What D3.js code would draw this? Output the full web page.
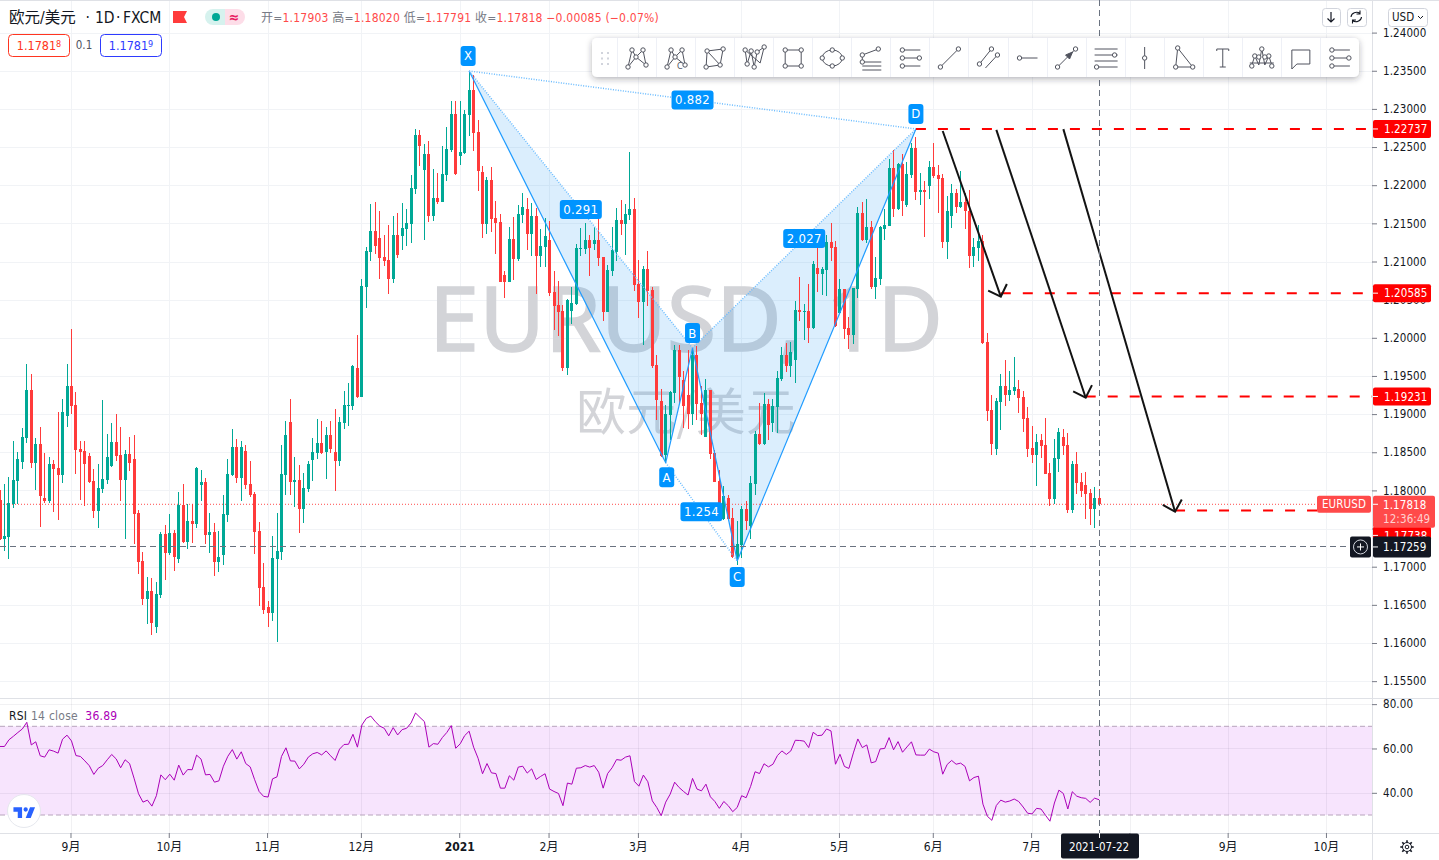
<!DOCTYPE html>
<html><head><meta charset="utf-8">
<script src="https://cdn.jsdelivr.net/npm/d3@7"></script>
<style>
html,body{margin:0;padding:0;background:#fff;overflow:hidden}
svg{display:block}
text{font-family:"DejaVu Sans Condensed","DejaVu Sans","Noto Sans CJK SC",sans-serif;font-stretch:condensed}
</style></head><body><svg id="c" width="1439" height="860"></svg>
<script>
const opens=[1.17873,1.17362,1.17393,1.17816,1.18122,1.18371,1.18686,1.19315,1.18358,1.18607,1.17900,1.17860,1.18345,1.18293,1.18201,1.18975,1.19368,1.19119,1.18542,1.18516,1.18450,1.18122,1.17729,1.18017,1.18135,1.18319,1.18634,1.18463,1.18135,1.18476,1.18411,1.17703,1.17074,1.16575,1.16680,1.16208,1.16628,1.17428,1.17178,1.17441,1.17100,1.17808,1.17323,1.17598,1.17559,1.18070,1.18109,1.17414,1.17454,1.17060,1.17152,1.17677,1.18201,1.18568,1.18166,1.18511,1.18083,1.17959,1.17462,1.16735,1.16473,1.16390,1.17103,1.17190,1.18202,1.18897,1.18110,1.18138,1.17756,1.18018,1.18400,1.18492,1.18621,1.18506,1.18727,1.18501,1.18386,1.18883,1.19109,1.19109,1.19605,1.19224,1.20668,1.21128,1.21404,1.21312,1.21059,1.21022,1.20774,1.21349,1.21335,1.21427,1.21496,1.21951,1.22660,1.22200,1.22411,1.21597,1.21836,1.21781,1.22135,1.22462,1.22936,1.22384,1.22425,1.22922,1.23251,1.22700,1.22175,1.21493,1.22070,1.21572,1.21520,1.20825,1.20733,1.21297,1.21035,1.21611,1.21690,1.21362,1.21598,1.21074,1.21192,1.21284,1.20602,1.20432,1.20353,1.19606,1.20353,1.20445,1.21166,1.21166,1.21284,1.21231,1.21284,1.21061,1.20340,1.20877,1.21126,1.21546,1.21493,1.21611,1.21690,1.20707,1.20471,1.20904,1.20628,1.19645,1.19173,1.18465,1.18989,1.19273,1.19842,1.19448,1.19252,1.19003,1.19774,1.19145,1.18699,1.19315,1.18489,1.18122,1.17620,1.17899,1.17637,1.17122,1.17283,1.17755,1.17532,1.18083,1.18739,1.18607,1.19132,1.18883,1.19093,1.19460,1.19774,1.19630,1.19709,1.20364,1.20338,1.20351,1.20128,1.20915,1.20836,1.20889,1.21256,1.21190,1.20320,1.20639,1.20128,1.20036,1.20639,1.21636,1.21282,1.21452,1.20666,1.20771,1.21426,1.21465,1.22226,1.21688,1.22278,1.21741,1.22134,1.22488,1.21911,1.21937,1.21990,1.22239,1.22134,1.22095,1.21256,1.21597,1.21898,1.21715,1.21780,1.21662,1.21072,1.21177,1.21269,1.19945,1.19053,1.18542,1.19158,1.19368,1.19250,1.19302,1.19328,1.19224,1.18948,1.18555,1.18463,1.18660,1.18594,1.18227,1.17886,1.18411,1.18699,1.18594,1.17742,1.18345,1.18109,1.18070,1.17965,1.17755,1.17903];
const closes=[1.17362,1.17401,1.17834,1.18135,1.18411,1.18699,1.19315,1.18358,1.18607,1.17926,1.17860,1.18345,1.18280,1.18201,1.19027,1.19368,1.19106,1.18529,1.18503,1.18345,1.18109,1.17729,1.18031,1.18149,1.18437,1.18634,1.18450,1.18135,1.18476,1.18358,1.17690,1.17060,1.16575,1.16680,1.16261,1.16641,1.17428,1.17178,1.17441,1.17126,1.17808,1.17323,1.17598,1.17559,1.18293,1.18109,1.17414,1.17454,1.17060,1.17126,1.17690,1.18214,1.18568,1.18162,1.18566,1.18069,1.17945,1.17457,1.16726,1.16431,1.16390,1.17112,1.17204,1.18216,1.18727,1.18110,1.18138,1.17756,1.18032,1.18345,1.18501,1.18621,1.18492,1.18727,1.18543,1.18386,1.18897,1.19118,1.19122,1.19633,1.19224,1.20682,1.21142,1.21404,1.21206,1.21050,1.21008,1.20774,1.21349,1.21087,1.21441,1.21505,1.21965,1.22660,1.22517,1.22411,1.21597,1.21836,1.21781,1.22149,1.22476,1.22936,1.22149,1.22439,1.22936,1.23251,1.22687,1.22188,1.21493,1.22070,1.21559,1.21507,1.20733,1.20733,1.21297,1.21035,1.21625,1.21716,1.21362,1.21598,1.21074,1.21205,1.21336,1.20589,1.20418,1.20340,1.19606,1.20497,1.20458,1.21179,1.21174,1.21284,1.21179,1.21284,1.21048,1.20340,1.20890,1.21153,1.21546,1.21493,1.21625,1.21690,1.20694,1.20471,1.20904,1.20615,1.19632,1.19186,1.18452,1.19003,1.19291,1.19842,1.19488,1.19107,1.19003,1.19776,1.19132,1.19001,1.19315,1.18476,1.18109,1.17629,1.17926,1.17620,1.17130,1.17296,1.17755,1.17598,1.18096,1.18739,1.18607,1.19132,1.18857,1.19106,1.19473,1.19774,1.19630,1.19814,1.20364,1.20338,1.20351,1.20128,1.20967,1.20836,1.20902,1.21256,1.21177,1.20154,1.20639,1.20115,1.20036,1.20653,1.21636,1.21282,1.21452,1.20666,1.20784,1.21452,1.21479,1.22226,1.21688,1.22278,1.21793,1.22147,1.22488,1.21911,1.21937,1.21911,1.22239,1.22121,1.22082,1.21256,1.21662,1.21898,1.21715,1.21780,1.21662,1.21072,1.21190,1.21269,1.19932,1.19040,1.18607,1.19171,1.19368,1.19250,1.19315,1.19355,1.19210,1.18935,1.18542,1.18463,1.18634,1.18581,1.18214,1.17886,1.18424,1.18765,1.18581,1.17742,1.18345,1.18096,1.17991,1.17952,1.17755,1.17899,1.17818];
const highs=[1.18004,1.18083,1.18175,1.18647,1.18503,1.18817,1.19656,1.19525,1.18686,1.18830,1.18489,1.18437,1.18398,1.19027,1.19197,1.19656,1.20115,1.19289,1.18647,1.18647,1.18489,1.18280,1.18345,1.19184,1.18739,1.18883,1.19001,1.18830,1.18529,1.18699,1.18725,1.17742,1.17192,1.16864,1.16851,1.16798,1.17454,1.17546,1.17690,1.17480,1.17978,1.18083,1.17821,1.17821,1.18306,1.18267,1.18162,1.17703,1.17572,1.17467,1.17939,1.18411,1.18804,1.18673,1.18649,1.18593,1.18386,1.17982,1.17586,1.17048,1.16551,1.17402,1.17706,1.18593,1.18911,1.19201,1.18437,1.18331,1.18230,1.18382,1.18685,1.18938,1.18911,1.18833,1.18911,1.19067,1.18961,1.19302,1.19408,1.19647,1.20038,1.20774,1.21188,1.21758,1.21781,1.21666,1.21349,1.21482,1.21597,1.21639,1.21767,1.21689,1.22135,1.22738,1.22724,1.22545,1.22582,1.22214,1.22163,1.22517,1.22766,1.23106,1.23106,1.23106,1.22991,1.23497,1.23446,1.22857,1.22254,1.22105,1.22241,1.21795,1.21625,1.20877,1.21454,1.21585,1.21743,1.21900,1.21834,1.21769,1.21703,1.21428,1.21572,1.21533,1.20877,1.20746,1.20432,1.20510,1.20668,1.21231,1.21441,1.21507,1.21349,1.21454,1.21703,1.21061,1.20956,1.21454,1.21703,1.21808,1.21756,1.22437,1.21834,1.21021,1.20943,1.21139,1.20668,1.19776,1.19330,1.19121,1.19304,1.19907,1.19907,1.19566,1.19842,1.19863,1.19892,1.19370,1.19460,1.19315,1.18529,1.18267,1.18057,1.17939,1.17768,1.17598,1.17795,1.17860,1.18188,1.18778,1.19145,1.19276,1.19197,1.19197,1.19564,1.19879,1.19932,1.19945,1.20482,1.20797,1.20443,1.20705,1.21007,1.21177,1.20928,1.21347,1.21505,1.21269,1.20771,1.20639,1.20272,1.20653,1.21715,1.21780,1.21819,1.21531,1.21059,1.21465,1.21688,1.22344,1.22462,1.22291,1.22409,1.22304,1.22554,1.22632,1.22160,1.22055,1.22318,1.22554,1.22265,1.22147,1.21859,1.22016,1.21950,1.22186,1.21898,1.21937,1.21308,1.21479,1.21347,1.20063,1.19250,1.19210,1.19525,1.19709,1.19564,1.19748,1.19446,1.19302,1.19093,1.18843,1.18739,1.18739,1.18948,1.18358,1.18673,1.18817,1.18804,1.18747,1.18385,1.18503,1.18227,1.18240,1.18017,1.18044,1.18020];
const lows=[1.17349,1.17209,1.17104,1.17768,1.17816,1.18280,1.18621,1.18293,1.18004,1.17519,1.17834,1.17834,1.17716,1.17611,1.18096,1.18830,1.19001,1.18214,1.17873,1.17795,1.18096,1.17637,1.17506,1.17965,1.18083,1.18306,1.18385,1.17860,1.17362,1.18253,1.17296,1.16903,1.16497,1.16248,1.16103,1.16130,1.16588,1.16824,1.17152,1.16942,1.17047,1.17310,1.17231,1.17310,1.17506,1.17860,1.17296,1.17178,1.16877,1.16929,1.17021,1.17585,1.18188,1.18096,1.17862,1.18023,1.17917,1.17172,1.16487,1.16381,1.16211,1.16289,1.16013,1.17094,1.17945,1.17945,1.17784,1.17448,1.17572,1.17977,1.18124,1.18414,1.18478,1.18152,1.18492,1.17991,1.18322,1.18805,1.18846,1.19053,1.19210,1.19224,1.20392,1.21008,1.21100,1.20774,1.20944,1.20576,1.20719,1.21050,1.21151,1.21206,1.21243,1.21887,1.22255,1.21284,1.21519,1.21533,1.21758,1.21781,1.22057,1.22439,1.22135,1.22269,1.22411,1.22646,1.22453,1.21930,1.21310,1.21362,1.21389,1.21100,1.20733,1.20523,1.20733,1.20759,1.21008,1.21507,1.21153,1.21074,1.20576,1.20930,1.20930,1.20550,1.20104,1.20025,1.19566,1.19514,1.20182,1.20432,1.21074,1.21100,1.20812,1.21153,1.20943,1.20222,1.20340,1.20812,1.21008,1.21349,1.21087,1.21546,1.20615,1.20261,1.19907,1.20418,1.19606,1.18924,1.18434,1.18363,1.18662,1.19142,1.19142,1.18815,1.18806,1.18858,1.18924,1.18725,1.18699,1.18411,1.18105,1.17620,1.17611,1.17620,1.17109,1.17021,1.17109,1.17480,1.17362,1.17939,1.18594,1.18594,1.18655,1.18769,1.18747,1.19433,1.19556,1.19486,1.19407,1.20220,1.19971,1.19932,1.20115,1.20600,1.20561,1.20548,1.21007,1.20140,1.20312,1.19984,1.19853,1.19918,1.20521,1.21269,1.21238,1.20639,1.20508,1.20692,1.21282,1.21465,1.21583,1.21675,1.21597,1.21715,1.22095,1.21806,1.21741,1.21321,1.21819,1.22095,1.21636,1.21177,1.21033,1.21439,1.21636,1.21701,1.21426,1.20915,1.20928,1.21007,1.19918,1.18909,1.18463,1.18463,1.18791,1.19106,1.19171,1.19250,1.19014,1.18765,1.18437,1.18358,1.18057,1.18424,1.18214,1.17795,1.17821,1.18240,1.18463,1.17703,1.17703,1.17952,1.17913,1.17624,1.17546,1.17506,1.17791];
const rsiValues=[60.9,60.9,63.9,65.5,67.2,68.8,71.8,61.6,63.0,56.7,56.1,59.4,58.8,57.9,64.2,66.0,63.4,56.8,56.4,54.4,52.2,48.3,51.1,52.3,54.9,57.3,55.3,51.3,54.9,53.2,46.6,39.6,35.8,36.7,34.0,38.7,48.1,45.9,48.4,45.7,52.5,48.0,50.5,50.4,57.0,55.2,48.1,48.3,44.8,45.4,52.0,56.5,59.5,55.2,58.5,53.2,51.7,45.9,40.6,38.4,38.1,46.3,47.2,56.4,60.3,54.4,54.3,50.8,52.9,56.1,57.6,58.2,57.1,58.9,56.7,54.6,59.7,61.8,61.9,66.4,60.6,70.6,73.6,74.6,72.1,70.1,69.1,65.7,69.4,66.1,68.5,69.1,71.5,76.0,74.0,72.1,60.6,62.2,61.9,64.9,67.2,70.3,60.1,62.1,65.8,67.8,60.6,55.6,48.6,53.2,49.0,48.7,42.1,42.1,47.7,45.7,51.6,52.0,48.9,50.8,46.0,47.4,48.6,41.7,40.6,39.7,34.2,44.4,43.9,51.1,51.3,52.3,51.6,52.3,49.3,42.1,48.7,51.3,55.0,54.7,56.1,56.7,45.1,43.0,48.0,45.0,36.4,33.4,29.7,35.8,39.4,44.8,42.4,40.6,39.0,46.5,41.7,40.9,43.9,38.2,36.1,33.0,36.1,34.2,31.5,33.4,38.7,37.8,42.9,49.5,48.7,53.1,51.7,52.9,56.8,58.9,57.3,58.9,63.7,63.6,63.3,60.4,67.3,65.8,66.0,68.8,67.9,52.9,57.4,51.9,51.0,58.0,64.3,60.4,61.6,53.5,54.1,59.8,60.0,64.9,59.4,63.1,58.3,60.7,63.0,57.1,57.0,57.0,59.7,58.5,57.9,48.4,52.8,54.6,52.9,53.4,51.9,45.4,46.9,47.5,34.9,29.4,27.6,34.3,36.7,35.8,36.3,37.2,36.1,33.6,30.8,30.5,33.0,32.7,29.9,27.2,35.4,41.2,39.7,32.7,40.5,38.5,37.8,37.5,35.7,37.6,36.89];
const priceTicks=[1.155,1.16,1.165,1.17,1.175,1.18,1.185,1.19,1.195,1.2,1.205,1.21,1.215,1.22,1.225,1.23,1.235,1.24];
const rsiTicks=[40,60,80];
const monthIdx=[16,38,60,81,103,123,143,166,188,209,231,253,275,297];
const monthLabels=["9月","10月","11月","12月","2021","2月","3月","4月","5月","6月","7月","","9月","10月"];
const patternNames=["X","A","B","C","D"];
const patternIdx=[105,149,155,165,205];
const patternPrices=[1.23497,1.18363,1.19866,1.17075,1.22737];
const ratioPairs=[[0,4],[0,2],[2,4],[1,3]];
const ratioLabels=["0.882","0.291","2.027","1.254"];
const levelPrices=[1.22737,1.20585,1.19231,1.17738];
const levelStartIdx=[205,224,243,263];
const arrowStartIdx=[211,223,238];
const arrowStartPrice=[1.2271,1.22725,1.22735];
const arrowEndIdx=[224,243,263];
const arrowEndPrice=[1.20539,1.19215,1.17721];
const lastPrice=1.17818, crossPrice=1.17259, crossIdx=246;

const svg=d3.select("#c");
const W=1372, H=698, B=833;
const x=d3.scaleLinear().domain([0,246]).range([0,1099.1]);
const y=d3.scaleLinear().domain([1.18,1.24]).range([490.4,32.6]);
const ry=d3.scaleLinear().domain([30,70]).range([815,726.3]);
const px=i=>Math.floor(x(i));
const cjk='"DejaVu Sans Condensed","Noto Sans CJK SC",sans-serif';
const gridC='#f1f3f6';
const axisSize=11.5;

// grid
const grid=svg.append("g").attr("shape-rendering","crispEdges");
grid.selectAll(".h").data(priceTicks).join("line").attr("x1",0).attr("x2",W).attr("y1",d=>Math.round(y(d))+.5).attr("y2",d=>Math.round(y(d))+.5).attr("stroke",gridC);
grid.selectAll(".v").data(monthIdx).join("line").attr("x1",d=>px(d)+.5).attr("x2",d=>px(d)+.5).attr("y1",0).attr("y2",B).attr("stroke",gridC);

// watermark
svg.append("text").attr("x",686).attr("y",351).attr("text-anchor","middle").attr("font-size",90).attr("fill","#d3d4d8").attr("stroke","#d3d4d8").attr("stroke-width",1.5).style("font-family",'"Noto Sans",sans-serif').style("font-stretch","normal").text("EURUSD, 1D");
svg.append("text").attr("x",686).attr("y",430).attr("text-anchor","middle").attr("font-size",50).attr("fill","#d3d4d8").style("font-family",'"Noto Sans CJK SC"').style("font-stretch","normal").text("欧元/美元");

// pattern fill
const pt=i=>[x(patternIdx[i]),y(patternPrices[i])];
const blue="#1e9bff";
svg.append("path").attr("d",d3.line()([pt(0),pt(1),pt(2)])+"Z").attr("fill","rgba(33,150,243,.16)");
svg.append("path").attr("d",d3.line()([pt(2),pt(3),pt(4)])+"Z").attr("fill","rgba(33,150,243,.16)");

// price line
svg.append("line").attr("x1",0).attr("x2",1317).attr("y1",y(lastPrice)).attr("y2",y(lastPrice)).attr("stroke","#ff4a4a").attr("stroke-dasharray","1 2");

// candles
const idx=d3.range(opens.length);
const col=i=>closes[i]>=opens[i]?"#00a896":"#ff3b3b";
const cg=svg.append("g").attr("shape-rendering","crispEdges");
cg.selectAll(".w").data(idx).join("rect").attr("x",px).attr("width",1).attr("y",i=>y(highs[i])).attr("height",i=>y(lows[i])-y(highs[i])).attr("fill",col);
cg.selectAll(".b").data(idx).join("rect").attr("x",i=>px(i)-1).attr("width",3)
  .attr("y",i=>y(Math.max(opens[i],closes[i]))).attr("height",i=>Math.max(1,Math.abs(y(opens[i])-y(closes[i])))).attr("fill",col);

// pattern lines
[[0,1],[1,2],[2,3],[3,4]].forEach(([a,b])=>svg.append("line").attr("x1",pt(a)[0]).attr("y1",pt(a)[1]).attr("x2",pt(b)[0]).attr("y2",pt(b)[1]).attr("stroke",blue).attr("stroke-width",1.2));
ratioPairs.forEach(([a,b])=>svg.append("line").attr("x1",pt(a)[0]).attr("y1",pt(a)[1]).attr("x2",pt(b)[0]).attr("y2",pt(b)[1]).attr("stroke","#6bbcff").attr("stroke-width",1.5).attr("stroke-dasharray","1 1.5"));

// levels
levelPrices.forEach((p,i)=>svg.append("line").attr("x1",x(levelStartIdx[i])).attr("x2",W).attr("y1",y(p)).attr("y2",y(p)).attr("stroke","#ff0000").attr("stroke-width",2).attr("stroke-dasharray","10 12"));

// arrows
arrowStartIdx.forEach((s,i)=>{
  const a=[x(s),y(arrowStartPrice[i])], b=[x(arrowEndIdx[i]),y(arrowEndPrice[i])];
  const ang=Math.atan2(a[1]-b[1],a[0]-b[0]);
  const w=d=>[b[0]+14*Math.cos(ang+d),b[1]+14*Math.sin(ang+d)];
  const l=d3.line();
  svg.append("path").attr("d",l([a,b])).attr("fill","none").attr("stroke","#131313").attr("stroke-width",2);
  svg.append("path").attr("d",l([w(Math.PI/4),b,w(-Math.PI/4)])).attr("fill","none").attr("stroke","#131313").attr("stroke-width",2);
});

// pattern labels
const labelBlue="#0094ff";
function badge(cx,cy,w,h,t,fs){
  const g=svg.append("g");
  g.append("rect").attr("x",cx-w/2).attr("y",cy-h/2).attr("width",w).attr("height",h).attr("rx",3).attr("fill",labelBlue);
  g.append("text").attr("x",cx).attr("y",cy+4.5).attr("text-anchor","middle").attr("font-size",fs).attr("fill","#fff").style("letter-spacing",".3px").text(t);
}
const pointOffset=[-15,14.5,-15,16,-15];
patternNames.forEach((n,i)=>badge(pt(i)[0]-(i==0?1:0)+(i==1?1:0),pt(i)[1]+pointOffset[i],15,20,n,13));
ratioPairs.forEach(([a,b],i)=>badge((pt(a)[0]+pt(b)[0])/2,(pt(a)[1]+pt(b)[1])/2,42,19,ratioLabels[i],13));

// axes areas
svg.append("rect").attr("x",W).attr("y",0).attr("width",1439-W).attr("height",860).attr("fill","#fff");
svg.append("rect").attr("x",0).attr("y",H).attr("width",W).attr("height",860-H).attr("fill","#fff");

// RSI pane
const rp=svg.append("g");
rp.append("rect").attr("x",0).attr("y",ry(70)).attr("width",W).attr("height",ry(30)-ry(70)).attr("fill","#f7e4fd");
const rg=rp.append("g").attr("shape-rendering","crispEdges");
rg.selectAll("line.h").data(rsiTicks).join("line").attr("x1",0).attr("x2",W).attr("y1",d=>Math.round(ry(d))+.5).attr("y2",d=>Math.round(ry(d))+.5).attr("stroke","rgba(60,60,90,.07)");
rg.selectAll("line.v").data(monthIdx).join("line").attr("x1",d=>px(d)+.5).attr("x2",d=>px(d)+.5).attr("y1",H).attr("y2",B).attr("stroke","rgba(60,60,90,.07)");
[70,30].forEach(v=>rp.append("line").attr("x1",0).attr("x2",W).attr("y1",ry(v)).attr("y2",ry(v)).attr("stroke","#b7a4bc").attr("stroke-dasharray","5 3"));
rp.append("path").attr("d",d3.line().x((d,i)=>x(i)).y(d=>ry(d))(rsiValues)).attr("fill","none").attr("stroke","#ab00b8").attr("stroke-width",1);

// pane separators
const sep=svg.append("g").attr("shape-rendering","crispEdges").attr("stroke","#dfe1e6");
sep.append("line").attr("x1",0).attr("x2",1439).attr("y1",H+.5).attr("y2",H+.5);
sep.append("line").attr("x1",0).attr("x2",1439).attr("y1",B+.5).attr("y2",B+.5);
sep.append("line").attr("x1",W+.5).attr("x2",W+.5).attr("y1",0).attr("y2",860);
sep.append("line").attr("x1",0).attr("x2",1439).attr("y1",.5).attr("y2",.5);

// axes
const tickText=s=>s.attr("font-size",axisSize).attr("fill","#131722").style("letter-spacing",".1px");
const ax=svg.append("g").attr("transform",`translate(${W},0)`).call(d3.axisRight(y).tickValues(priceTicks).tickFormat(d3.format(".5f")).tickSize(5).tickPadding(6));
ax.select(".domain").remove(); ax.selectAll("line").attr("stroke","#787b86"); ax.selectAll("text").call(tickText);
const ax2=svg.append("g").attr("transform",`translate(${W},0)`).call(d3.axisRight(ry).tickValues(rsiTicks).tickFormat(d3.format(".2f")).tickSize(5).tickPadding(6));
ax2.select(".domain").remove(); ax2.selectAll("line").attr("stroke","#787b86"); ax2.selectAll("text").call(tickText);
const bx=svg.append("g").attr("transform",`translate(-1,${B})`).call(d3.axisBottom(x).tickValues(monthIdx).tickFormat((d,i)=>monthLabels[i]).tickSize(5).tickPadding(4));
bx.select(".domain").remove(); bx.selectAll("line").attr("stroke","#787b86"); bx.selectAll("text").attr("font-size",12).attr("fill","#131722").style("font-family",cjk).attr("font-weight",(d,i)=>monthLabels[i]=="2021"?700:400);

// axis price boxes
const boxText=(xp,yp,t,c="#fff",fs=axisSize,anc="start")=>svg.append("text").attr("x",xp).attr("y",yp).attr("font-size",fs).attr("fill",c).attr("text-anchor",anc).style("letter-spacing",".1px").text(t);
const levelLabelShift=[0,0,0,25];
levelPrices.forEach((p,i)=>{
  const yy=y(p)+levelLabelShift[i];
  svg.append("rect").attr("x",W+1).attr("y",yy-9).attr("width",58).attr("height",18).attr("rx",2).attr("fill","#ff0000");
  svg.append("line").attr("x1",W+1).attr("x2",W+6).attr("y1",yy).attr("y2",yy).attr("stroke","#fff");
  boxText(1384,yy+4.3,d3.format(".5f")(p));
});
const ly=y(lastPrice);
svg.append("rect").attr("x",1317).attr("y",ly-8.5).attr("width",54).attr("height",17).attr("rx",2).attr("fill","#ff4a4a");
svg.append("text").attr("x",1344).attr("y",ly+4).attr("text-anchor","middle").attr("font-size",axisSize).attr("fill","#fff").style("letter-spacing",".1px").text("EURUSD");
svg.append("rect").attr("x",W+1).attr("y",ly-8.5).attr("width",62).attr("height",32).attr("rx",2).attr("fill","#ff4a4a");
svg.append("line").attr("x1",W+1).attr("x2",W+6).attr("y1",ly).attr("y2",ly).attr("stroke","#fff");
boxText(1383,ly+4.3,d3.format(".5f")(lastPrice));
boxText(1383,ly+19,"12:36:49","#ffd0d0");

// crosshair
const cLine=svg.append("g").attr("shape-rendering","crispEdges").attr("stroke","#6a7280").attr("stroke-dasharray","6 4");
const cy=y(crossPrice);
cLine.append("line").attr("x1",0).attr("x2",1350).attr("y1",Math.floor(cy)+.5).attr("y2",Math.floor(cy)+.5);
cLine.append("line").attr("x1",Math.floor(x(crossIdx))+.5).attr("x2",Math.floor(x(crossIdx))+.5).attr("y1",0).attr("y2",B);
svg.append("rect").attr("x",1350).attr("y",cy-10.5).attr("width",21).attr("height",21).attr("rx",2).attr("fill","#131722");
svg.append("rect").attr("x",W+1).attr("y",cy-10.5).attr("width",58).attr("height",21).attr("rx",2).attr("fill","#131722");
svg.append("circle").attr("cx",1360.5).attr("cy",cy).attr("r",7).attr("fill","none").attr("stroke","#d1d4dc");
svg.append("path").attr("d",`M1357 ${cy}H1364M1360.5 ${cy-3.5}V${cy+3.5}`).attr("stroke","#fff");
svg.append("line").attr("x1",W+1).attr("x2",W+6).attr("y1",cy).attr("y2",cy).attr("stroke","#fff");
boxText(1383,cy+4.3,d3.format(".5f")(crossPrice));
svg.append("rect").attr("x",1061).attr("y",B+.5).attr("width",78).attr("height",25).attr("rx",2).attr("fill","#131722");
svg.append("text").attr("x",1099).attr("y",851).attr("text-anchor","middle").attr("font-size",axisSize).attr("fill","#fff").text("2021-07-22");
svg.append("line").attr("x1",1099.5).attr("x2",1099.5).attr("y1",B).attr("y2",B+5).attr("stroke","#fff");

// header
const hd=(xp,t)=>svg.append("text").attr("x",xp).attr("y",23).attr("font-size",15.5).attr("fill","#131722").style("font-family",cjk).text(t);
hd(9,"欧元/美元"); hd(85.5,"·"); hd(95,"1D"); hd(116,"·"); hd(123,"FXCM");
svg.append("path").attr("d","M173 11H187L184 17L187 23H173Z").attr("fill","#ff3b3b");
svg.append("path").attr("d","M213 9H225V25H213A8 8 0 0 1 213 9Z").attr("fill","#d6f2ee");
svg.append("path").attr("d","M225 9H237A8 8 0 0 1 237 25H225Z").attr("fill","#fddde8");
svg.append("circle").attr("cx",216).attr("cy",17).attr("r",4).attr("fill","#00a896");
svg.append("text").attr("x",234).attr("y",21.5).attr("text-anchor","middle").attr("font-size",14).attr("font-weight",700).attr("fill","#e91e63").text("≈");
const ohlc=svg.append("text").attr("x",261).attr("y",21.5).attr("font-size",12).style("font-family",cjk).style("letter-spacing",".22px");
[["开=",0],["1.17903 ",1],["高=",0],["1.18020 ",1],["低=",0],["1.17791 ",1],["收=",0],["1.17818 −0.00085 (−0.07%)",1]].forEach(([t,r])=>ohlc.append("tspan").attr("fill",r?"#ff4a4a":"#787b86").attr("xml:space","preserve").text(t));
function pill(x0,w,c,main,sup){
  svg.append("rect").attr("x",x0+.5).attr("y",34.5).attr("width",w).attr("height",22).attr("rx",4).attr("fill","#fff").attr("stroke",c);
  const t=svg.append("text").attr("x",x0+w/2+.5).attr("y",50).attr("text-anchor","middle").attr("font-size",12.5).attr("fill",c);
  t.append("tspan").text(main); t.append("tspan").attr("font-size",9).attr("dy",-3).text(sup);
}
pill(8,61,"#ff3520","1.1781","8");
svg.append("text").attr("x",84).attr("y",49).attr("text-anchor","middle").attr("font-size",11.5).attr("fill","#50535e").text("0.1");
pill(100,61,"#2e3bff","1.1781","9");

// top right buttons
[[1322,18],[1347,19]].forEach(([a,w])=>svg.append("rect").attr("x",a+.5).attr("y",8.5).attr("width",w).attr("height",18).attr("rx",3).attr("fill","#fff").attr("stroke","#d1d4dc"));
svg.append("path").attr("d","M1331 12V22M1327.5 18.5L1331 22L1334.5 18.5").attr("fill","none").attr("stroke","#131722").attr("stroke-width",1.2);
svg.append("path").attr("d","M1351 17a5.5 5 0 0 1 9-3.5M1361.5 17a5.5 5 0 0 1-9 3.5M1360 10.5V14H1356.5M1352.5 23.5V20H1356").attr("fill","none").attr("stroke","#131722").attr("stroke-width",1.1);
svg.append("rect").attr("x",1388.5).attr("y",8.5).attr("width",39).attr("height",18).attr("rx",3).attr("fill","#fff").attr("stroke","#d1d4dc");
svg.append("text").attr("x",1392).attr("y",21).attr("font-size",11.5).attr("fill","#131722").text("USD");
svg.append("path").attr("d","M1418 16L1420.5 18.5L1423 16").attr("fill","none").attr("stroke","#131722");

// RSI legend
const rl=svg.append("text").attr("x",9).attr("y",720).attr("font-size",12).style("letter-spacing",".25px");
[["RSI","#131722"],[" 14 close","#787b86"],["  36.89","#ab00b8"]].forEach(([t,c])=>rl.append("tspan").attr("fill",c).attr("xml:space","preserve").text(t));

// TV logo
svg.append("circle").attr("cx",24).attr("cy",811).attr("r",16.5).attr("fill","#fff").attr("stroke","#e6e8ee");
svg.append("path").attr("transform","translate(12,803) scale(.72)").attr("fill","#2962ff").attr("d","M14 6H2v6h6v9h6V6Zm12 15h-7l6-15h7l-6 15Zm-7-9a3 3 0 1 0 0-6 3 3 0 0 0 0 6Z");

// gear
const gear=svg.append("g").attr("transform","translate(1407,847)").attr("fill","none").attr("stroke","#131722");
gear.append("circle").attr("r",4.5);
gear.append("circle").attr("r",1.8);
d3.range(8).forEach(i=>{const a=i*Math.PI/4;gear.append("line").attr("x1",4.5*Math.cos(a)).attr("y1",4.5*Math.sin(a)).attr("x2",6.7*Math.cos(a)).attr("y2",6.7*Math.sin(a)).attr("stroke-width",1.6);});

// toolbar
const defs=svg.append("defs");
const f=defs.append("filter").attr("id","sh").attr("x","-5%").attr("y","-30%").attr("width","110%").attr("height","170%");
f.append("feDropShadow").attr("dx",0).attr("dy",2).attr("stdDeviation",3).attr("flood-color","#2a2e39").attr("flood-opacity",.35);
svg.append("rect").attr("x",592).attr("y",38).attr("width",767).attr("height",39).attr("rx",5).attr("fill","#fff").attr("filter","url(#sh)");
d3.range(19).forEach(i=>svg.append("line").attr("x1",617.5+i*39.05).attr("x2",617.5+i*39.05).attr("y1",38).attr("y2",77).attr("stroke","#eef0f6").attr("shape-rendering","crispEdges"));
[[601,52],[607,52],[601,57.5],[607,57.5],[601,63],[607,63]].forEach(([a,b])=>svg.append("rect").attr("x",a).attr("y",b).attr("width",2).attr("height",2).attr("fill","#d1d4dc"));
const icons=[
 {l:[[[-9,9],[-5,-8],[-1,-1],[6,-8],[9,7],[-1,-1],[-9,9]]],n:[[-9,9],[-5,-8],[-1,-1],[6,-8],[9,7]]},
 {l:[[[-9,9],[-5,-8],[-1,-1],[6,-8],[9,7],[-1,-1],[-9,9]]],n:[[-9,9],[-5,-8],[-1,-1],[6,-8],[9,7]],t:"C"},
 {l:[[[-8,-7],[8,-9],[5,7],[-9,9],[-8,-7],[5,7]]],n:[[-8,-7],[8,-9],[5,7],[-9,9]]},
 {l:[[[-9,-8],[-7,6],[-3,-7],[0,9],[3,-6],[10,-11],[6,5],[-9,-8]]],n:[[-9,-8],[-7,6],[-3,-7],[0,9],[3,-6],[10,-11]]},
 {l:[[[-8,-8],[8,-8],[8,8],[-8,8],[-8,-8]]],n:[[-8,-8],[8,-8],[8,8],[-8,8]]},
 {c:[0,0,10,8],n:[[-10,0],[0,-8],[10,0],[0,8]]},
 {l:[[[-9,4],[-9,-3],[7,-9]],[[-9,4],[10,4]],[[-9,8],[10,8]],[[-9,12],[10,12]]],n:[[-9,-3],[7,-9],[-9,4]]},
 {l:[[[-9,-8],[10,-8]],[[-9,0],[10,0]],[[-9,8],[10,8]]],n:[[-8,-8],[-8,0],[-8,8],[9,0]]},
 {l:[[[-9,9],[9,-9]]],n:[[-9,9],[9,-9]]},
 {l:[[[-9,6],[3,-9]],[[-3,10],[9,-3]]],n:[[-9,6],[3,-9],[9,-3]]},
 {l:[[[-7,0],[10,0]]],n:[[-8,0]]},
 {l:[[[-9,9],[9,-9]]],n:[[-9,9],[9,-9]],a:1},
 {l:[[[-11,-9],[12,-9]],[[-11,-3],[12,-3]],[[-11,3],[12,3]],[[-11,9],[12,9]]],n:[[9,-3],[-9,9]]},
 {l:[[[0,-11],[0,11]]],n:[[0,0]]},
 {l:[[[-6,-10],[-8,9],[9,9],[-6,-10]]],n:[[-6,-10],[-8,9],[9,9]]},
 {T:1},
 {l:[[[-10,7],[-7,-2],[-3,7],[0,-9],[3,7],[7,-2],[10,7]],[[-12,5],[12,5]]],n:[[-7,-2],[0,-9],[7,-2],[-3,-1],[3,-1],[-10,8],[10,8]]},
 {p:1},
 {l:[[[-9,-8],[10,-8]],[[-9,0],[10,0]],[[-9,8],[10,8]]],n:[[-8,-8],[-8,0],[-8,8],[9,0]]}
];
const ic="#50535e";
icons.forEach((o,i)=>{
  const g=svg.append("g").attr("transform",`translate(${637+i*39.05},58)`).attr("fill","none").attr("stroke",ic);
  (o.l||[]).forEach(p=>g.append("path").attr("d",d3.line()(p)));
  if(o.c) g.append("ellipse").attr("rx",o.c[2]).attr("ry",o.c[3]);
  (o.n||[]).forEach(p=>g.append("circle").attr("cx",p[0]).attr("cy",p[1]).attr("r",2.2).attr("fill","#fff"));
  if(o.t) g.append("text").attr("x",1).attr("y",11).attr("font-size",9).attr("fill",ic).attr("stroke","none").text(o.t);
  if(o.T) g.append("path").attr("d","M-6 -9H6M0 -9V9M-3 9H3M-6 -9V-7M6 -9V-7");
  if(o.p) g.append("path").attr("d","M-9 -8H9V6H-4L-9 11Z");
  if(o.a) g.append("path").attr("d","M6 -6L-1 -3L3 1Z").attr("fill",ic);
});
</script></body></html>
